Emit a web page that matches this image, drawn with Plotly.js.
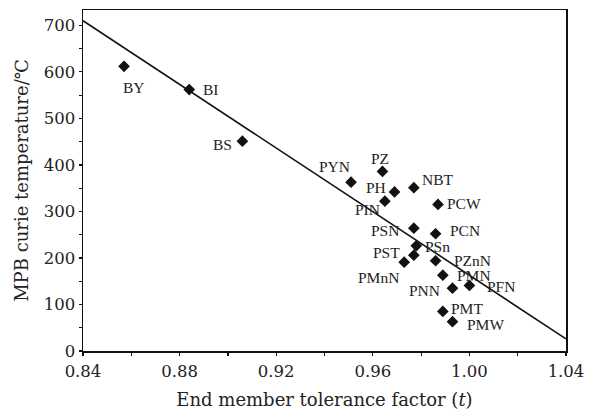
<!DOCTYPE html>
<html>
<head>
<meta charset="utf-8">
<script src="https://cdn.plot.ly/plotly-3.0.1.min.js"></script>
<style>html,body{margin:0;padding:0;background:#fff;}#chart{width:589px;height:410px;}</style>
</head>
<body>
<div id="chart"></div>
<script>
// Data
const names = ["BY","BI","BS","PYN","PZ","PH","NBT","PIN","PCW","PSN","PCN","PSn","PST","PMnN","PZnN","PMN","PNN","PFN","PMT","PMW"];
const tolerance = [0.857,0.884,0.906,0.951,0.964,0.969,0.977,0.965,0.987,0.977,0.986,0.978,0.977,0.973,0.986,0.989,0.993,1.000,0.989,0.993];
const curieT = [612,562,451,363,386,342,351,322,315,264,252,226,206,191,194,163,135,141,85,63];
const fitX = [0.84,1.04];
const fitY = [710,26];

// Label placement (pixel offsets; layout only)
const labelOffsets = [[10,21],[22,0],[-20,3],[-17,-16],[-2,-13],[-19,-4],[24,-8],[-17,8],[26,-1],[-29,2],[29,-3],[21,1],[-27,-3],[-26,15],[37,0],[31,0],[-28,2],[32,1],[24,-3],[33,3]];

const annotations = names.map((n,i)=>({
  x: tolerance[i], y: curieT[i], xref:'x', yref:'y', text: n, showarrow:false,
  xanchor:'center', yanchor:'middle',
  xshift: labelOffsets[i][0], yshift: -labelOffsets[i][1],
  font:{family:'Liberation Serif, Times New Roman, serif', size:15.5, color:'#222'}
}));

const traces = [
  {x: fitX, y: fitY, mode:'lines', line:{color:'#111', width:1.6}, hoverinfo:'skip', showlegend:false},
  {x: tolerance, y: curieT, mode:'markers', marker:{symbol:'diamond', size:9, color:'#111'}, showlegend:false}
];

const tickFont = {family:'DejaVu Serif, serif', size:16.5, color:'#222'};
const titleFont = {family:'DejaVu Serif, serif', size:18, color:'#222'};
const layout = {
  width:589, height:410,
  margin:{l:83, r:23, t:10, b:59},
  paper_bgcolor:'#fff', plot_bgcolor:'#fff',
  showlegend:false,
  xaxis:{
    range:[0.84,1.04], dtick:0.04, tick0:0.84, tickformat:'.2f',
    ticks:'outside', ticklen:3, tickcolor:'#111', tickwidth:1.2,
    minor:{dtick:0.02, ticks:'outside', ticklen:3, tickcolor:'#111'},
    showline:true, linecolor:'#111', linewidth:1.5, mirror:true,
    showgrid:false, zeroline:false, ticklabelstandoff:2,
    tickfont:tickFont,
    title:{text:'End member tolerance factor (<i>t</i>)', font:titleFont, standoff:14}
  },
  yaxis:{
    range:[0,733], dtick:100, tick0:0,
    ticks:'outside', ticklen:3, tickcolor:'#111', tickwidth:1.2,
    minor:{dtick:50, ticks:'outside', ticklen:3, tickcolor:'#111'},
    showline:true, linecolor:'#111', linewidth:1.5, mirror:true,
    showgrid:false, zeroline:false,
    tickfont:tickFont,
    title:{text:'MPB curie temperature/℃', font:titleFont, standoff:10}
  },
  annotations: annotations
};

Plotly.newPlot('chart', traces, layout, {staticPlot:true, displayModeBar:false});
</script>
</body>
</html>
